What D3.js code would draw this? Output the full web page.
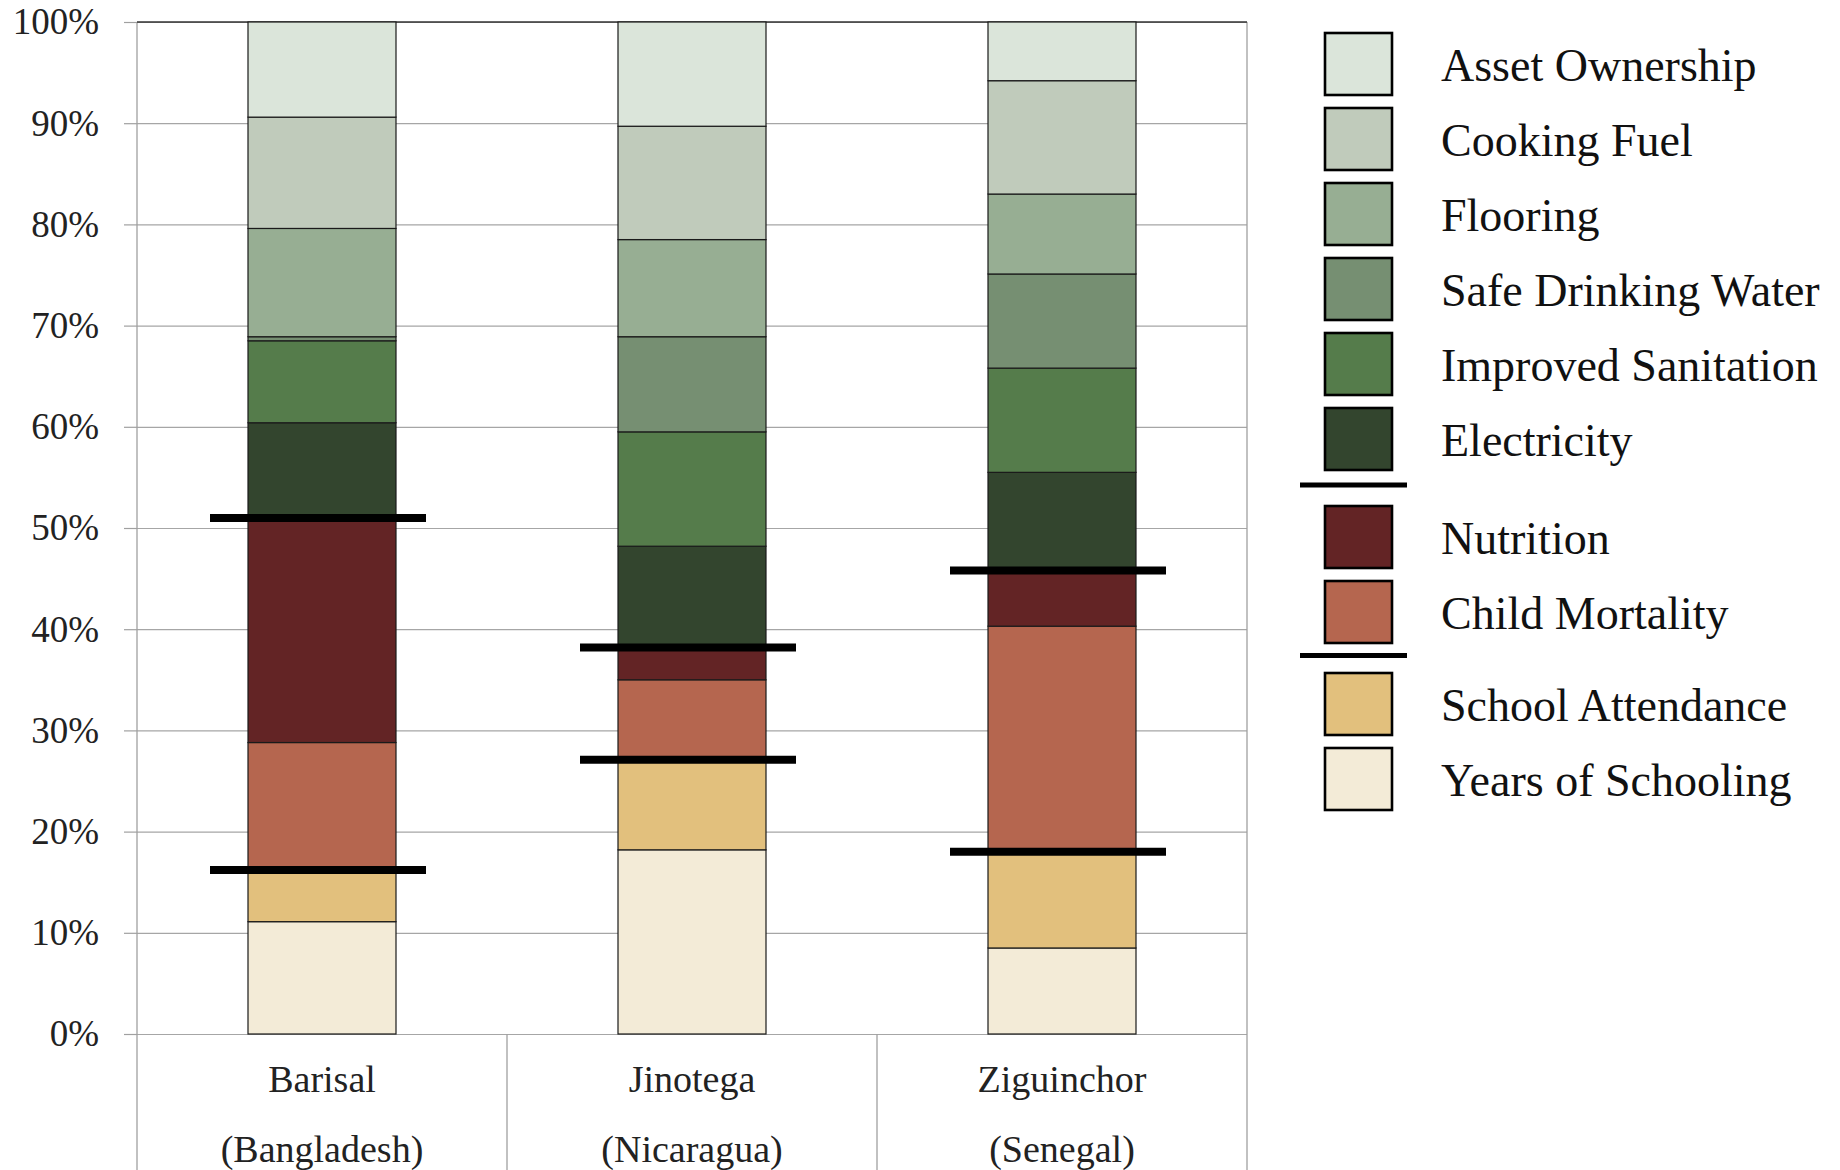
<!DOCTYPE html>
<html>
<head>
<meta charset="utf-8">
<script src="https://cdn.jsdelivr.net/npm/d3@7"></script>
<style>
  html, body { margin: 0; padding: 0; background: #fff; }
  svg { display: block; }
  text { font-family: "Liberation Serif", "Times New Roman", serif; }
</style>
</head>
<body>
<svg id="chart" width="1840" height="1170"></svg>
<script>
// ---- Data ----
const regions = ["Barisal", "Jinotega", "Ziguinchor"];
const countries = ["(Bangladesh)", "(Nicaragua)", "(Senegal)"];

// indicators, stacked bottom -> top
const indicators = [
  "Years of Schooling", "School Attendance",
  "Child Mortality", "Nutrition",
  "Electricity", "Improved Sanitation", "Safe Drinking Water",
  "Flooring", "Cooking Fuel", "Asset Ownership"
];
const colors = [
  "#f3ebd7", "#e2c07d",
  "#b5664f", "#632425",
  "#33452e", "#557c4b", "#768f72",
  "#97ae93", "#c0cbbb", "#dbe5da"
];

// percentage contribution of each indicator, per region (Barisal, Jinotega, Ziguinchor)
const yearsOfSchooling   = [11.1, 18.2, 8.5];
const schoolAttendance   = [5.1, 8.9, 9.5];
const childMortality     = [12.6, 7.9, 22.3];
const nutrition          = [22.2, 3.2, 5.5];
const electricity        = [9.4, 10.0, 9.7];
const improvedSanitation = [8.1, 11.3, 10.3];
const safeDrinkingWater  = [0.4, 9.4, 9.3];
const flooring           = [10.7, 9.6, 7.9];
const cookingFuel        = [11.0, 11.2, 11.2];
const assetOwnership     = [9.4, 10.3, 5.8];

const seriesValues = [
  yearsOfSchooling, schoolAttendance, childMortality, nutrition,
  electricity, improvedSanitation, safeDrinkingWater,
  flooring, cookingFuel, assetOwnership
];

const yTicks = [0, 10, 20, 30, 40, 50, 60, 70, 80, 90, 100];

// legend order (top -> bottom) with group breaks
const legendGroups = [
  ["Asset Ownership", "Cooking Fuel", "Flooring", "Safe Drinking Water", "Improved Sanitation", "Electricity"],
  ["Nutrition", "Child Mortality"],
  ["School Attendance", "Years of Schooling"]
];
// stack index after which a group boundary (cutoff line) is drawn
const groupBreaks = [1, 3];

// ---- Build table ----
const table = regions.map((r, i) => {
  const row = { region: r };
  indicators.forEach((k, j) => row[k] = seriesValues[j][i]);
  return row;
});
const stacked = d3.stack().keys(indicators)(table);
const colorOf = d3.scaleOrdinal().domain(indicators).range(colors);

// ---- Layout ----
const svg = d3.select("#chart");
const pLeft = 137, pRight = 1247, pTop = 22, pBottom = 1034;

const y = d3.scaleLinear().domain([0, 100]).range([pBottom, pTop]);
const x = d3.scaleBand().domain(regions).range([pLeft, pRight]).paddingInner(0.6).paddingOuter(0.3);
const xBand = d3.scaleBand().domain(regions).range([pLeft, pRight]).padding(0);

// gridlines
svg.append("g")
  .attr("transform", `translate(${pLeft},0)`)
  .call(d3.axisLeft(y).tickValues(yTicks).tickSize(-(pRight - pLeft)).tickFormat(""))
  .call(g => g.select(".domain").remove())
  .call(g => g.selectAll("line").attr("stroke", "#a6a6a6").attr("stroke-width", 1.2));

// category separators below axis, and plot side borders
svg.append("g").selectAll("line")
  .data(regions.concat(["_end"]))
  .join("line")
  .attr("x1", (d, i) => i < regions.length ? xBand(d) : pRight)
  .attr("x2", (d, i) => i < regions.length ? xBand(d) : pRight)
  .attr("y1", (d, i) => (i === 0 || i === regions.length) ? pTop : pBottom)
  .attr("y2", 1170)
  .attr("stroke", "#a0a0a0").attr("stroke-width", 1.3);

// top border
svg.append("line")
  .attr("x1", pLeft).attr("x2", pRight).attr("y1", y(100)).attr("y2", y(100))
  .attr("stroke", "#333").attr("stroke-width", 1.6);

// y axis ticks + labels
svg.append("g")
  .attr("transform", `translate(${pLeft},0)`)
  .call(d3.axisLeft(y).tickValues(yTicks).tickSize(13).tickPadding(25).tickFormat(d => d + "%"))
  .call(g => g.select(".domain").remove())
  .call(g => g.selectAll("line").attr("stroke", "#a0a0a0").attr("stroke-width", 1.2))
  .call(g => g.selectAll("text")
    .attr("font-family", "'Liberation Serif', 'Times New Roman', serif")
    .attr("font-size", 37).attr("fill", "#222"));

// bars
const layers = svg.append("g").selectAll("g")
  .data(stacked)
  .join("g")
  .attr("fill", d => colorOf(d.key));
layers.selectAll("rect")
  .data(d => d)
  .join("rect")
  .attr("x", d => x(d.data.region))
  .attr("width", x.bandwidth())
  .attr("y", d => y(d[1]))
  .attr("height", d => y(d[0]) - y(d[1]))
  .attr("stroke", "#1a1a1a")
  .attr("stroke-width", 1.2);

// cutoff lines at group boundaries
const cut = svg.append("g");
groupBreaks.forEach(k => {
  cut.selectAll(null)
    .data(stacked[k])
    .join("line")
    .attr("x1", d => x(d.data.region) - 38)
    .attr("x2", d => x(d.data.region) + x.bandwidth() + 30)
    .attr("y1", d => y(d[1]))
    .attr("y2", d => y(d[1]))
    .attr("stroke", "#000")
    .attr("stroke-width", 8);
});

// x category labels
const xl = svg.append("g").attr("font-size", 38).attr("fill", "#222").attr("text-anchor", "middle");
xl.selectAll(".r").data(regions).join("text")
  .attr("class", "r")
  .attr("x", d => xBand(d) + xBand.bandwidth() / 2)
  .attr("y", 1092)
  .text(d => d);
xl.selectAll(".c").data(countries).join("text")
  .attr("class", "c")
  .attr("x", (d, i) => xBand(regions[i]) + xBand.bandwidth() / 2)
  .attr("y", 1162)
  .text(d => d);

// legend
const legend = svg.append("g");
const lgX = 1325, swW = 67, swH = 62, pitch = 75, lgTop = 33, textX = 1441;
const groupOffsets = [0, 23, 40];
let idx = 0;
legendGroups.forEach((grp, g) => {
  grp.forEach(name => {
    const ty = lgTop + idx * pitch + groupOffsets[g];
    legend.append("rect")
      .attr("x", lgX).attr("y", ty).attr("width", swW).attr("height", swH)
      .attr("fill", colorOf(name)).attr("stroke", "#000").attr("stroke-width", 2.6);
    legend.append("text")
      .attr("x", textX).attr("y", ty + swH / 2 + 17)
      .attr("font-size", 46).attr("fill", "#111")
      .text(name);
    idx++;
  });
  if (g < legendGroups.length - 1) {
    const lastBottom = lgTop + (idx - 1) * pitch + groupOffsets[g] + swH;
    const nextTop = lgTop + idx * pitch + groupOffsets[g + 1];
    const ly = lastBottom + (nextTop - lastBottom) * 0.42;
    legend.append("line")
      .attr("x1", 1300).attr("x2", 1407).attr("y1", ly).attr("y2", ly)
      .attr("stroke", "#000").attr("stroke-width", 5);
  }
});
</script>
</body>
</html>
